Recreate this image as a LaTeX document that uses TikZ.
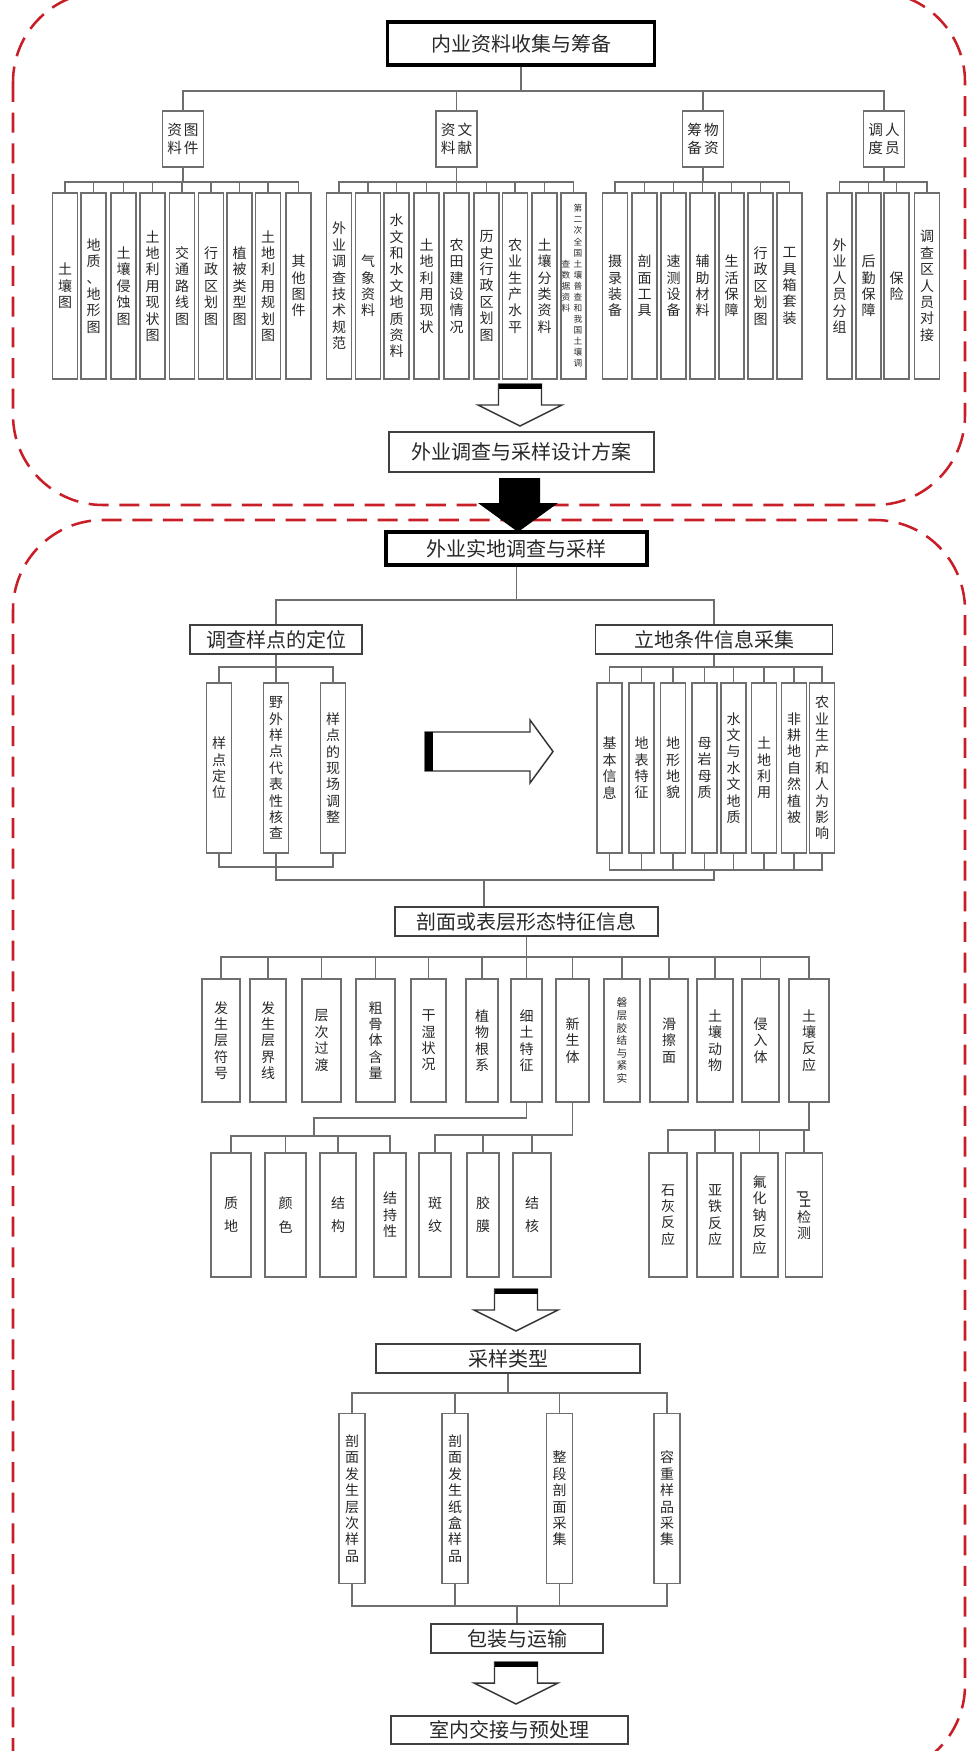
\documentclass[tikz,border=0pt]{standalone}
\usepackage{fontspec}
\usepackage{graphicx}
\newfontfamily\cjk{Noto Sans CJK SC}
\definecolor{dashred}{RGB}{200,30,40}
\definecolor{lncol}{RGB}{110,110,110}
\definecolor{txtcol}{RGB}{40,40,40}
% one character per line, for the narrow boxes
\makeatletter
\newcommand{\vst}[1]{\vst@loop#1\relax}
\def\vst@loop#1#2\relax{#1\ifx\relax#2\relax\else\\\vst@loop#2\relax\fi}
\makeatother
\tikzset{
	conn/.style={draw=lncol, line width=0.9pt},
	border/.style={draw=dashred, line width=1.9pt, dash pattern=on 15pt off 8pt, rounded corners=67.5pt},
	mainbox/.style={draw=black, line width=2.6pt, inner sep=0pt, text=txtcol, font=\cjk\fontsize{15}{18}\selectfont},
	subbox/.style={draw=black!75, line width=1.3pt, inner sep=0pt, text=txtcol, font=\cjk\fontsize{15}{18}\selectfont},
	grp/.style={draw=lncol, line width=1.1pt, inner sep=0pt, align=center, minimum width=30.75pt, minimum height=42pt, text=txtcol, font=\cjk\fontsize{11}{13.5}\selectfont},
	leaf/.style={draw=lncol, line width=1.1pt, inner sep=0pt, align=center, text=txtcol, font=\cjk\fontsize{10.5}{12.3}\selectfont},
	topleaf/.style={leaf, minimum width=18.75pt, minimum height=139.5pt},
	midleaf/.style={leaf, minimum width=18.75pt, minimum height=127.5pt},
	pmleaf/.style={leaf, minimum height=92.25pt},
	subleaf/.style={leaf, minimum height=93pt},
	cyleaf/.style={leaf, minimum width=19.5pt, minimum height=127.5pt},
	smalltxt/.style={inner sep=0pt, align=center, text=txtcol, font=\cjk\fontsize{6.5}{8.3}\selectfont},
	hollow/.style={draw=black!80, line width=1.1pt, fill=white, line join=miter}
}
% hollow block arrow: #1 = x of its axis, #2 = y of its top
\newcommand{\hollowdown}[2]{
	\draw[hollow] (#1-21.5,#2) -- (#1+21.5,#2) -- (#1+21.5,#2+21) -- (#1+42,#2+21)
		-- (#1,#2+42) -- (#1-42,#2+21) -- (#1-21.5,#2+21) -- cycle;
	\fill[black] (#1-21.5,#2) rectangle (#1+21.5,#2+5);
}
\begin{document}
\begin{tikzpicture}[x=0.75pt, y=-0.75pt]
	\useasboundingbox (0,0) rectangle (974,1751);
	\clip (0,0) rectangle (974,1751);

	% the two dashed frames
	\draw[border] (13,-8) rectangle (965,505);
	\draw[border] (13,1850) -- (13,520) -- (965,520) -- (965,1775) -- (600,1775);

	%% ---------- preparation ----------
	\node[mainbox, minimum width=200.25pt, minimum height=32.25pt] (top) at (521,43.5) {内业资料收集与筹备};
	\node[grp] (g1) at (183,139) {资\hspace{1.5pt}图\\料\hspace{1.5pt}件};
	\node[grp] (g2) at (456.5,139) {资\hspace{1.5pt}文\\料\hspace{1.5pt}献};
	\node[grp] (g3) at (703,139) {筹\hspace{1.5pt}物\\备\hspace{1.5pt}资};
	\node[grp] (g4) at (884,139) {调\hspace{1.5pt}人\\度\hspace{1.5pt}员};

	\node[topleaf] (tu1) at (65,286) {\vst{土壤图}};
	\node[topleaf] (tu2) at (93.5,286) {\vst{地质、地形图}};
	\node[topleaf] (tu3) at (123.5,286) {\vst{土壤侵蚀图}};
	\node[topleaf] (tu4) at (152.5,286) {\vst{土地利用现状图}};
	\node[topleaf] (tu5) at (182,286) {\vst{交通路线图}};
	\node[topleaf] (tu6) at (211,286) {\vst{行政区划图}};
	\node[topleaf] (tu7) at (239.5,286) {\vst{植被类型图}};
	\node[topleaf] (tu8) at (268,286) {\vst{土地利用规划图}};
	\node[topleaf] (tu9) at (298.5,286) {\vst{其他图件}};

	\node[topleaf] (wx1) at (339,286) {\vst{外业调查技术规范}};
	\node[topleaf] (wx2) at (368,286) {\vst{气象资料}};
	\node[topleaf] (wx3) at (396.5,286) {\vst{水文和水文地质资料}};
	\node[topleaf] (wx4) at (426.5,286) {\vst{土地利用现状}};
	\node[topleaf] (wx5) at (456.5,286) {\vst{农田建设情况}};
	\node[topleaf] (wx6) at (486.5,286) {\vst{历史行政区划图}};
	\node[topleaf] (wx7) at (515,286) {\vst{农业生产水平}};
	\node[topleaf] (wx8) at (544.5,286) {\vst{土壤分类资料}};
	\node[topleaf] (wx9) at (573.5,286) {};
	\node[smalltxt] (wx9r) at (578,286) {\vst{第二次全国土壤普查和我国土壤调}};
	\node[smalltxt] (wx9l) at (566,286) {\vst{查数据资料}};

	\node[topleaf] (wz1) at (615,286) {\vst{摄录装备}};
	\node[topleaf] (wz2) at (644.5,286) {\vst{剖面工具}};
	\node[topleaf] (wz3) at (673.5,286) {\vst{速测设备}};
	\node[topleaf] (wz4) at (702.5,286) {\vst{辅助材料}};
	\node[topleaf] (wz5) at (731.5,286) {\vst{生活保障}};
	\node[topleaf] (wz6) at (760.5,286) {\vst{行政区划图}};
	\node[topleaf] (wz7) at (789.5,286) {\vst{工具箱套装}};

	\node[topleaf] (ry1) at (839.5,286) {\vst{外业人员分组}};
	\node[topleaf] (ry2) at (868.5,286) {\vst{后勤保障}};
	\node[topleaf] (ry3) at (896.5,286) {\vst{保险}};
	\node[topleaf] (ry4) at (927,286) {\vst{调查区人员对接}};

	\coordinate (b0) at (0,91);
	\coordinate (b1) at (0,182);
	\foreach \g in {g1,g2,g3,g4}
		\draw[conn] (top.south) -- (top.south |- b0) -| (\g.north);
	\foreach \i in {1,...,9}
		\draw[conn] (g1.south) -- (g1.south |- b1) -| (tu\i.north);
	\foreach \i in {1,...,9}
		\draw[conn] (g2.south) -- (g2.south |- b1) -| (wx\i.north);
	\foreach \i in {1,...,7}
		\draw[conn] (g3.south) -- (g3.south |- b1) -| (wz\i.north);
	\foreach \i in {1,...,4}
		\draw[conn] (g4.south) -- (g4.south |- b1) -| (ry\i.north);

	\hollowdown{520}{384}
	\node[subbox, minimum width=198.75pt, minimum height=30pt] (plan) at (521.5,452) {外业调查与采样设计方案};

	% black arrow across the frames
	\fill[black] (499,478) -- (540,478) -- (540,503) -- (558,503) -- (518,532) -- (478,503) -- (499,503) -- cycle;

	%% ---------- field work ----------
	\node[mainbox, minimum width=195.75pt, minimum height=24.75pt] (field) at (516.5,548.5) {外业实地调查与采样};
	\node[subbox, minimum width=129pt, minimum height=21.75pt] (dw) at (276,639.5) {调查样点的定位};
	\node[subbox, minimum width=177.75pt, minimum height=21.75pt] (lj) at (714,639.5) {立地条件信息采集};

	\node[midleaf] (dw1) at (219,768) {\vst{样点定位}};
	\node[midleaf] (dw2) at (276,768) {\vst{野外样点代表性核查}};
	\node[midleaf] (dw3) at (333,768) {\vst{样点的现场调整}};

	\node[midleaf] (lj1) at (609.5,768) {\vst{基本信息}};
	\node[midleaf] (lj2) at (641.5,768) {\vst{地表特征}};
	\node[midleaf] (lj3) at (673,768) {\vst{地形地貌}};
	\node[midleaf] (lj4) at (704.5,768) {\vst{母岩母质}};
	\node[midleaf] (lj5) at (733.5,768) {\vst{水文与水文地质}};
	\node[midleaf] (lj6) at (764,768) {\vst{土地利用}};
	\node[midleaf] (lj7) at (794,768) {\vst{非耕地自然植被}};
	\node[midleaf] (lj8) at (822,768) {\vst{农业生产和人为影响}};

	% right block arrow
	\draw[hollow] (425,732) -- (530,732) -- (530,720) -- (553,751.5) -- (530,783) -- (530,771) -- (425,771) -- cycle;
	\fill[black] (425,732) rectangle (433,771);

	\coordinate (b2) at (0,600);
	\coordinate (b3) at (0,667);
	\coordinate (b4) at (0,867);
	\coordinate (b5) at (0,870);
	\coordinate (b6) at (0,880);
	\coordinate (j6) at (484,880);
	\draw[conn] (field.south) -- (field.south |- b2) -| (dw.north);
	\draw[conn] (field.south) -- (field.south |- b2) -| (lj.north);
	\foreach \i in {1,2,3}
		\draw[conn] (dw.south) -- (dw.south |- b3) -| (dw\i.north);
	\foreach \i in {1,...,8}
		\draw[conn] (lj.south) -- (lj.south |- b3) -| (lj\i.north);
	\foreach \i in {1,2,3}
		\draw[conn] (dw\i.south) |- (dw.south |- b4);
	\foreach \i in {1,...,8}
		\draw[conn] (lj\i.south) |- (lj.south |- b5);
	\draw[conn] (dw.south |- b4) -- (dw.south |- b6) -- (lj.south |- b6) -- (lj.south |- b5);

	%% ---------- profile ----------
	\node[subbox, minimum width=197.25pt, minimum height=21.75pt] (pm) at (526.5,921.5) {剖面或表层形态特征信息};
	\draw[conn] (j6) -- (j6 |- pm.north);

	\node[pmleaf, minimum width=28.5pt] (pm1) at (221,1040.5) {\vst{发生层符号}};
	\node[pmleaf, minimum width=27pt] (pm2) at (268,1040.5) {\vst{发生层界线}};
	\node[pmleaf, minimum width=29.25pt] (pm3) at (321.5,1040.5) {\vst{层次过渡}};
	\node[pmleaf, minimum width=29.25pt] (pm4) at (375.5,1040.5) {\vst{粗骨体含量}};
	\node[pmleaf, minimum width=26.25pt] (pm5) at (428.5,1040.5) {\vst{干湿状况}};
	\node[pmleaf, minimum width=24pt] (pm6) at (482,1040.5) {\vst{植物根系}};
	\node[pmleaf, minimum width=23.25pt] (pm7) at (526.5,1040.5) {\vst{细土特征}};
	\node[pmleaf, minimum width=24.75pt] (pm8) at (572.5,1040.5) {\vst{新生体}};
	\node[pmleaf, minimum width=27pt, font=\cjk\fontsize{8}{9.4}\selectfont] (pm9) at (622,1040.5) {\vst{磐层胶结与紧实}};
	\node[pmleaf, minimum width=28.5pt] (pm10) at (669,1040.5) {\vst{滑擦面}};
	\node[pmleaf, minimum width=27pt] (pm11) at (715,1040.5) {\vst{土壤动物}};
	\node[pmleaf, minimum width=27.75pt] (pm12) at (760.5,1040.5) {\vst{侵入体}};
	\node[pmleaf, minimum width=30pt] (pm13) at (809,1040.5) {\vst{土壤反应}};

	\coordinate (b7) at (0,957);
	\foreach \i in {1,...,13}
		\draw[conn] (pm.south) -- (pm.south |- b7) -| (pm\i.north);

	\node[subleaf, minimum width=30pt] (xt1) at (231,1215) {质\\[5pt]地};
	\node[subleaf, minimum width=30.75pt] (xt2) at (285.5,1215) {颜\\[5pt]色};
	\node[subleaf, minimum width=27pt] (xt3) at (338,1215) {结\\[5pt]构};
	\node[subleaf, minimum width=24pt] (xt4) at (390,1215) {\vst{结持性}};

	\node[subleaf, minimum width=24pt] (xs1) at (435,1215) {斑\\[5pt]纹};
	\node[subleaf, minimum width=24pt] (xs2) at (483,1215) {胶\\[5pt]膜};
	\node[subleaf, minimum width=28.5pt] (xs3) at (532,1215) {结\\[5pt]核};

	\node[subleaf, minimum width=28.5pt] (fy1) at (668,1215) {\vst{石灰反应}};
	\node[subleaf, minimum width=27pt] (fy2) at (715,1215) {\vst{亚铁反应}};
	\node[subleaf, minimum width=27.75pt] (fy3) at (759.5,1215) {\vst{氟化钠反应}};
	\node[subleaf, minimum width=27.75pt] (fy4) at (804,1215) {\rotatebox{-90}{pH}\\\vst{检测}};

	\coordinate (j8) at (314,1118);
	\coordinate (b8) at (0,1136);
	\coordinate (b9) at (0,1135);
	\coordinate (b10) at (0,1130);
	\draw[conn] (pm7.south) |- (j8) -- (j8 |- b8);
	\foreach \i in {1,...,4}
		\draw[conn] (j8 |- b8) -| (xt\i.north);
	\foreach \i in {1,2,3}
		\draw[conn] (pm8.south) -- (pm8.south |- b9) -| (xs\i.north);
	\foreach \i in {1,...,4}
		\draw[conn] (pm13.south) -- (pm13.south |- b10) -| (fy\i.north);

	%% ---------- sampling ----------
	\hollowdown{516}{1289}
	\node[subbox, minimum width=198pt, minimum height=21.75pt] (cy) at (508,1358.5) {采样类型};

	\node[cyleaf] (cy1) at (352,1498.5) {\vst{剖面发生层次样品}};
	\node[cyleaf] (cy2) at (455,1498.5) {\vst{剖面发生纸盒样品}};
	\node[cyleaf] (cy3) at (559.5,1498.5) {\vst{整段剖面采集}};
	\node[cyleaf] (cy4) at (667,1498.5) {\vst{容重样品采集}};

	\node[subbox, minimum width=129pt, minimum height=21.75pt] (bz) at (517,1638.5) {包装与运输};

	\coordinate (b11) at (0,1393);
	\coordinate (b12) at (0,1606);
	\foreach \i in {1,...,4}
		\draw[conn] (cy.south) -- (cy.south |- b11) -| (cy\i.north);
	\foreach \i in {1,...,4}
		\draw[conn] (cy\i.south) |- (bz.north |- b12);
	\draw[conn] (bz.north |- b12) -- (bz.north);

	\hollowdown{516}{1662}
	\node[subbox, minimum width=177.75pt, minimum height=21pt] (sn) at (509.5,1730) {室内交接与预处理};
\end{tikzpicture}
\end{document}
